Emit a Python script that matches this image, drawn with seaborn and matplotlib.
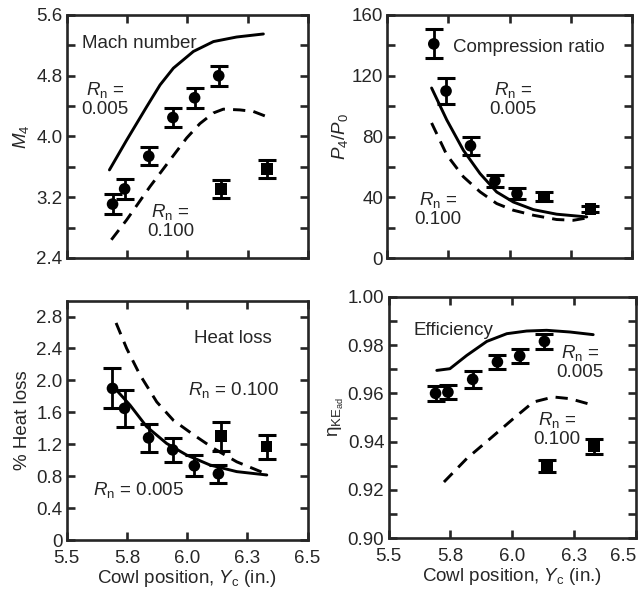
import numpy as np
import pandas as pd
import matplotlib
matplotlib.use("Agg")
import matplotlib.pyplot as plt
from matplotlib.ticker import FixedLocator, FixedFormatter
import seaborn as sns

# ---- measured data (cowl position in inches) ----
x_round = [5.69, 5.74, 5.84, 5.94, 6.03, 6.13]
x_square = [6.14, 6.33]

mach_round = [3.11, 3.31, 3.74, 4.25, 4.51, 4.80]
mach_round_err = [0.13, 0.13, 0.12, 0.13, 0.13, 0.13]
mach_square = [3.31, 3.57]
mach_square_err = [0.12, 0.12]

comp_x_round = [5.69, 5.74, 5.84, 5.94, 6.03]
comp_round = [141, 110, 74, 51, 42.5]
comp_round_err = [9.5, 8.5, 6, 4, 3.5]
comp_square = [40.5, 32.5]
comp_square_err = [3, 2]

heat_round = [1.90, 1.65, 1.28, 1.13, 0.93, 0.83]
heat_round_err = [0.25, 0.23, 0.18, 0.15, 0.13, 0.11]
heat_square = [1.30, 1.17]
heat_square_err = [0.18, 0.15]

eff_round = [0.960, 0.9605, 0.9658, 0.973, 0.9755, 0.9815]
eff_round_err = [0.003, 0.003, 0.0035, 0.003, 0.003, 0.003]
eff_square = [0.930, 0.938]
eff_square_err = [0.0025, 0.003]

# ---- computed curves for two nose radii ----
mach_005_x = [5.677, 5.748, 5.831, 5.887, 5.942, 6.025, 6.108, 6.204, 6.315]
mach_005_y = [3.56, 3.95, 4.39, 4.68, 4.90, 5.12, 5.25, 5.31, 5.35]
mach_100_x = [5.685, 5.748, 5.845, 5.928, 5.997, 6.052, 6.108, 6.149, 6.218, 6.273, 6.322]
mach_100_y = [2.64, 2.90, 3.34, 3.69, 3.98, 4.17, 4.31, 4.36, 4.35, 4.33, 4.27]

comp_005_x = [5.681, 5.743, 5.811, 5.879, 5.947, 6.015, 6.097, 6.192, 6.315]
comp_005_y = [112, 91, 71, 55.7, 43.6, 37, 32, 29, 27.2]
comp_100_x = [5.681, 5.743, 5.811, 5.879, 5.947, 6.015, 6.097, 6.192, 6.26, 6.315]
comp_100_y = [89, 68, 53.6, 43.7, 36, 31.6, 28.3, 25.5, 25, 26.5]

heat_005_x = [5.694, 5.763, 5.832, 5.915, 5.998, 6.095, 6.206, 6.331]
heat_005_y = [1.92, 1.69, 1.42, 1.21, 1.065, 0.94, 0.857, 0.815]
heat_100_x = [5.705, 5.749, 5.804, 5.874, 5.943, 6.026, 6.109, 6.206, 6.303, 6.337]
heat_100_y = [2.72, 2.40, 2.07, 1.73, 1.50, 1.32, 1.15, 0.98, 0.86, 0.82]

eff_005_x = [5.695, 5.748, 5.816, 5.897, 5.978, 6.058, 6.139, 6.233, 6.327]
eff_005_y = [0.9695, 0.9702, 0.9757, 0.9815, 0.9847, 0.9858, 0.9861, 0.9854, 0.9843]
eff_100_x = [5.724, 5.816, 5.91, 6.004, 6.085, 6.166, 6.233, 6.327]
eff_100_y = [0.9233, 0.933, 0.9412, 0.9495, 0.9564, 0.9585, 0.9578, 0.9551]

x_ticks = [5.5, 5.75, 6.0, 6.25, 6.5]
x_tick_labels = ["5.5", "5.8", "6.0", "6.3", "6.5"]

sns.set_style("ticks")
plt.rcParams["font.family"] = ["Liberation Sans", "DejaVu Sans"]
plt.rcParams["mathtext.fontset"] = "custom"
plt.rcParams["mathtext.rm"] = "Liberation Sans"
plt.rcParams["mathtext.it"] = "Liberation Sans:italic"
plt.rcParams["mathtext.bf"] = "Liberation Sans:bold"

FS = 13.5
RN = r"$R_\mathrm{n}$"

fig = plt.figure(figsize=(6.44, 5.95), dpi=100)
ax_m = fig.add_axes([0.1036, 0.5664, 0.3747, 0.4084])
ax_c = fig.add_axes([0.6014, 0.5659, 0.3800, 0.4089])
ax_h = fig.add_axes([0.1036, 0.0924, 0.3739, 0.4024])
ax_e = fig.add_axes([0.6033, 0.0953, 0.3843, 0.4060])


def curves(ax, x5, y5, x1, y1):
    df = pd.DataFrame({
        "x": list(x5) + list(x1),
        "y": list(y5) + list(y1),
        "Rn": ["0.005"] * len(x5) + ["0.100"] * len(x1),
    })
    sns.lineplot(data=df, x="x", y="y", style="Rn",
                 dashes={"0.005": "", "0.100": (4.2, 2.8)},
                 color="black", linewidth=2.1, sort=False, estimator=None,
                 legend=False, ax=ax)


def points(ax, xr, yr, er, xs, ys, es):
    for xx, yy, ee in ((xr, yr, er), (xs, ys, es)):
        ax.errorbar(xx, yy, yerr=ee, fmt="none", ecolor="black",
                    elinewidth=2.0, capsize=6.5, capthick=2.2, zorder=3)
    df = pd.DataFrame({
        "x": list(xr) + list(xs),
        "y": list(yr) + list(ys),
        "kind": ["round"] * len(xr) + ["square"] * len(xs),
    })
    sns.scatterplot(data=df, x="x", y="y", style="kind",
                    markers={"round": "o", "square": "s"},
                    color="black", s=70, edgecolor="black", linewidth=0,
                    legend=False, ax=ax, zorder=4)


def frame(ax, ylim, yticks, ylabels, show_x):
    ax.set_xlim(5.5, 6.5)
    ax.set_ylim(*ylim)
    ax.xaxis.set_major_locator(FixedLocator(x_ticks))
    ax.xaxis.set_major_formatter(FixedFormatter(x_tick_labels))
    ax.yaxis.set_major_locator(FixedLocator(yticks))
    ax.yaxis.set_major_formatter(FixedFormatter(ylabels))
    ax.tick_params(direction="in", length=6, width=1.9, top=True, right=True,
                   labelsize=FS)
    ax.tick_params(axis="x", pad=7)
    ax.tick_params(axis="y", pad=3)
    if not show_x:
        ax.tick_params(labelbottom=False)
    for s in ax.spines.values():
        s.set_linewidth(1.9)
        s.set_visible(True)
    ax.set_xlabel("")
    ax.set_ylabel("")


# Mach number
curves(ax_m, mach_005_x, mach_005_y, mach_100_x, mach_100_y)
points(ax_m, x_round, mach_round, mach_round_err, x_square, mach_square, mach_square_err)
mt = [2.4, 2.8, 3.2, 3.6, 4.0, 4.4, 4.8, 5.2, 5.6]
frame(ax_m, (2.4, 5.6), mt, ["2.4", "", "3.2", "", "4.0", "", "4.8", "", "5.6"], False)
ax_m.set_ylabel(r"$M_4$", fontsize=FS, labelpad=4)
ax_m.text(5.563, 5.23, "Mach number", fontsize=FS, ha="left", va="center")
ax_m.text(5.659, 4.49, RN + " =\n0.005", fontsize=FS, ha="center", va="center",
          linespacing=1.05)
ax_m.text(5.93, 2.89, RN + " =\n0.100", fontsize=FS, ha="center", va="center",
          linespacing=1.05)

# Compression ratio
curves(ax_c, comp_005_x, comp_005_y, comp_100_x, comp_100_y)
points(ax_c, comp_x_round, comp_round, comp_round_err, x_square, comp_square, comp_square_err)
ct = [0, 20, 40, 60, 80, 100, 120, 140, 160]
frame(ax_c, (0, 160), ct, ["0", "", "40", "", "80", "", "120", "", "160"], False)
ax_c.set_ylabel(r"$P_4/P_0$", fontsize=FS, labelpad=1)
ax_c.text(5.769, 138.3, "Compression ratio", fontsize=FS, ha="left", va="center")
ax_c.text(6.014, 104.7, RN + " =\n0.005", fontsize=FS, ha="center", va="center",
          linespacing=1.05)
ax_c.text(5.707, 32.3, RN + " =\n0.100", fontsize=FS, ha="center", va="center",
          linespacing=1.05)

# Heat loss
curves(ax_h, heat_005_x, heat_005_y, heat_100_x, heat_100_y)
points(ax_h, x_round, heat_round, heat_round_err, x_square, heat_square, heat_square_err)
ht = [0, 0.4, 0.8, 1.2, 1.6, 2.0, 2.4, 2.8]
frame(ax_h, (0, 3.0), ht, ["0", "0.4", "0.8", "1.2", "1.6", "2.0", "2.4", "2.8"], True)
ax_h.set_ylabel("% Heat loss", fontsize=FS, labelpad=4)
ax_h.set_xlabel(r"Cowl position, $Y_\mathrm{c}$ (in.)", fontsize=FS, labelpad=1)
ax_h.text(6.189, 2.52, "Heat loss", fontsize=FS, ha="center", va="center")
ax_h.text(6.004, 1.88, RN + " = 0.100", fontsize=FS, ha="left", va="center")
ax_h.text(5.609, 0.63, RN + " = 0.005", fontsize=FS, ha="left", va="center")

# Efficiency
curves(ax_e, eff_005_x, eff_005_y, eff_100_x, eff_100_y)
points(ax_e, x_round, eff_round, eff_round_err, x_square, eff_square, eff_square_err)
et = [0.90, 0.91, 0.92, 0.93, 0.94, 0.95, 0.96, 0.97, 0.98, 0.99, 1.00]
frame(ax_e, (0.90, 1.00), et,
      ["0.90", "", "0.92", "", "0.94", "", "0.96", "", "0.98", "", "1.00"], True)
ax_e.set_ylabel(r"$\mathrm{\eta}_{\mathrm{KE}_{\mathrm{ad}}}$", fontsize=FS, labelpad=1)
ax_e.set_xlabel(r"Cowl position, $Y_\mathrm{c}$ (in.)", fontsize=FS, labelpad=1)
ax_e.text(5.599, 0.9862, "Efficiency", fontsize=FS, ha="left", va="center")
ax_e.text(6.274, 0.973, RN + " =\n0.005", fontsize=FS, ha="center", va="center",
          linespacing=1.05)
ax_e.text(6.181, 0.9452, RN + " =\n0.100", fontsize=FS, ha="center", va="center",
          linespacing=1.05)
# keep the last x tick label inside the canvas
ax_e.get_xticklabels()[-1].set_horizontalalignment("right")
ax_e.get_xticklabels()[-1].set_x(6.5)

fig.savefig("out.png", dpi=100)
